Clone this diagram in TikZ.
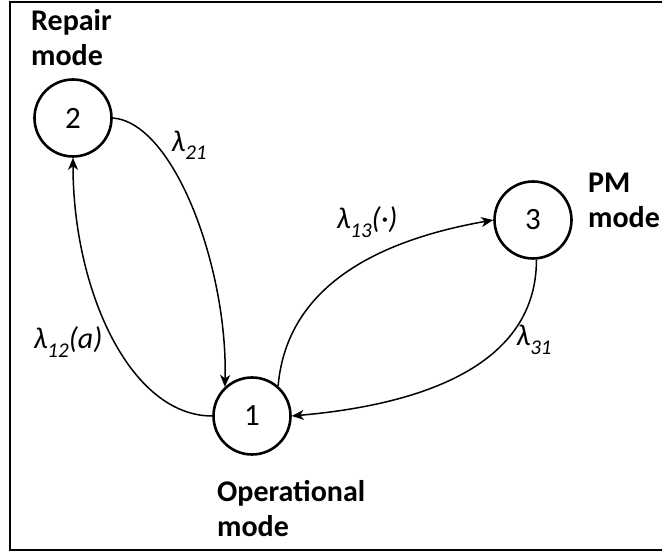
\documentclass[tikz,border=0pt]{standalone}
\usepackage{fontspec}
\setmainfont{Carlito}
\usetikzlibrary{arrows.meta}
\newcommand\lamlab[2]{λ\raisebox{-0.28em}{\fontsize{21}{21}\selectfont #1}#2}
\begin{document}
\begin{tikzpicture}[x=1pt,y=1pt,
  state/.style={circle,draw,line width=2.6pt,minimum size=77pt,inner sep=0pt,font=\fontsize{31}{31}\selectfont},
  modelabel/.style={align=left,anchor=base west,inner sep=0pt,font=\fontsize{30}{35}\selectfont\bfseries},
  edge/.style={line width=1.5pt,-{Stealth[length=12pt,width=10pt,inset=3.5pt]}},
  lab/.style={inner sep=0pt,font=\fontsize{30}{30}\selectfont\itshape}]
\useasboundingbox (0,0) rectangle (662,553);
\draw[line width=2pt] (664,551) -- (10,551) -- (10,3) -- (664,3);
\node[state] (n2) at (73,435) {2};
\node[state] (n1) at (252,137) {1};
\node[state] (n3) at (533,333) {3};
\node[modelabel] (t2) at (31,487) {Repair\\mode};
\node[modelabel] (t1) at (217,16) {Operational\\mode};
\node[modelabel] (t3) at (588,325) {PM\\mode};
\draw[edge] (n2.east) .. controls (175,430) and (228,283) .. (n1.133);
\draw[edge] (n1.west) .. controls (130,137) and (73,263) .. (n2.south);
\draw[edge] (n1.49) to[out=85,in=190] (n3.west);
\draw[edge] (n3.-85) to[out=-90,in=5] (n1.east);
\node[lab] (l21) at (189,408) {\lamlab{21}{}};
\node[lab] (l12) at (68,211) {\lamlab{12}{(a)}};
\node[lab] (l13) at (367,331) {\lamlab{13}{(·)}};
\node[lab] (l31) at (534,213) {\lamlab{31}{}};
\end{tikzpicture}
\end{document}
